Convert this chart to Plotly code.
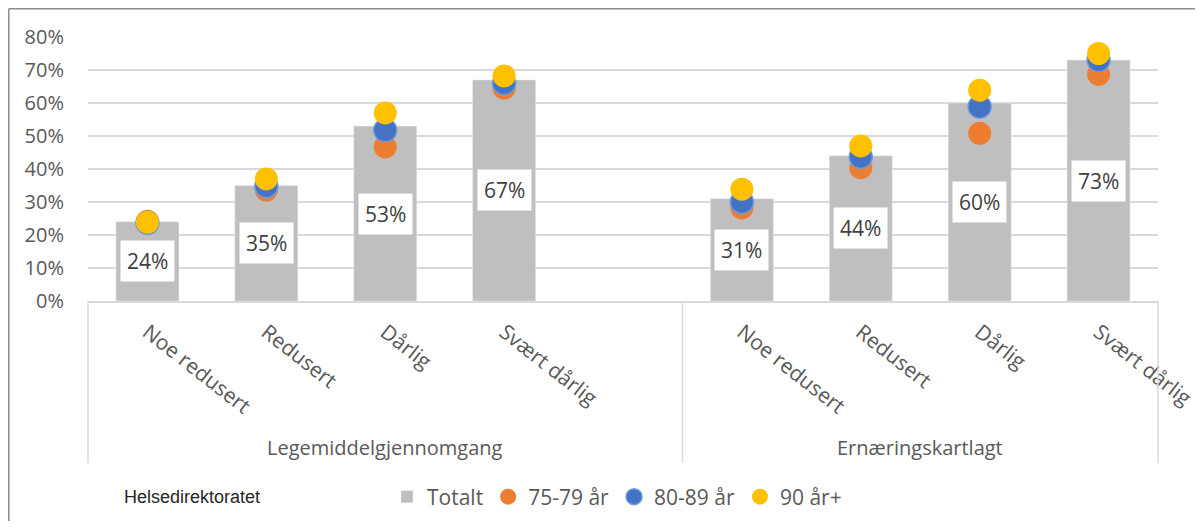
import plotly.graph_objects as go

groups = ["Legemiddelgjennomgang", "Ernæringskartlagt"]
categories = ["Noe redusert", "Redusert", "Dårlig", "Svært dårlig"]
totalt = [0.24, 0.35, 0.53, 0.67, 0.31, 0.44, 0.60, 0.73]
age_75_79 = [0.242, 0.336, 0.467, 0.645, 0.282, 0.404, 0.508, 0.687]
age_80_89 = [0.237, 0.348, 0.518, 0.660, 0.300, 0.437, 0.589, 0.730]
age_90 = [0.239, 0.370, 0.570, 0.682, 0.339, 0.470, 0.639, 0.750]
yticks = [0, 0.1, 0.2, 0.3, 0.4, 0.5, 0.6, 0.7, 0.8]

# page geometry: the html body adds an 8px margin, so the figure is offset by 8px
OFF = 8
W, H = 1203 - OFF, 529 - 2 * OFF
PLOT_L, PLOT_R, PLOT_T, PLOT_B = 88, 1158, 37, 301  # page pixel coordinates of the plot area
L = PLOT_L - OFF
T = PLOT_T - OFF
R = W - (PLOT_R - OFF)
B = H - (PLOT_B - OFF)
PW, PH = PLOT_R - PLOT_L, PLOT_B - PLOT_T

def px_x(p):
    return (p - PLOT_L) / PW

def px_y(p):
    return (PLOT_B - p) / PH

# slot positions: group 1 occupies slots 0-3 (slot 4 empty), group 2 slots 5-8
n = len(categories)
n_slots = 2 * n + 1
xpos = list(range(n)) + [n + 1 + i for i in range(n)]
xlabels = categories + categories

font_main = "Open Sans, Noto Sans, sans-serif"
grey_txt = "#595959"

fig = go.Figure()
fig.add_trace(go.Bar(x=xpos, y=totalt, name="Totalt", marker=dict(color="#BFBFBF"),
                     width=0.53, hoverinfo="skip"))
fig.add_trace(go.Scatter(x=xpos, y=age_75_79, mode="markers", name="75-79 år",
                         marker=dict(color="#ED7D31", size=23)))
fig.add_trace(go.Scatter(x=xpos, y=age_80_89, mode="markers", name="80-89 år",
                         marker=dict(color="#4472C4", size=23, line=dict(color="#6A9BDB", width=1.5))))
fig.add_trace(go.Scatter(x=xpos, y=age_90, mode="markers", name="90 år+",
                         marker=dict(color="#FFC000", size=23)))

annotations = []
for xp, v in zip(xpos, totalt):
    annotations.append(dict(x=xp, y=v / 2, xref="x", yref="y", text=f"{v*100:.0f}%",
                            showarrow=False, bgcolor="white", borderpad=6,
                            font=dict(family=font_main, size=21, color="#404040")))

# group labels
group_centers = [(-0.5 + n + 0.5) / 2, (n + 0.5 + 2 * n + 0.5) / 2]
for g, c in zip(groups, group_centers):
    annotations.append(dict(x=c, y=px_y(447), xref="x", yref="paper", text=g, showarrow=False,
                            xanchor="center", yanchor="middle",
                            font=dict(family=font_main, size=20, color=grey_txt)))

annotations.append(dict(x=px_x(192), y=px_y(497), xref="paper", yref="paper",
                        text="Helsedirektoratet", showarrow=False, xanchor="center", yanchor="middle",
                        font=dict(family="Liberation Sans, Arial, sans-serif", size=18, color="#262626")))

shapes = []
for b in [-0.5, n + 0.5, 2 * n + 0.5]:
    xp = (b + 0.5) / n_slots
    shapes.append(dict(type="line", xref="paper", yref="paper", x0=xp, x1=xp, y0=0, y1=px_y(463),
                       line=dict(color="#D9D9D9", width=1.5)))
# outer chart border (as far left/top as the figure reaches)
bx = px_x(OFF + 0.8)
by = px_y(OFF + 0.8)
shapes.append(dict(type="line", xref="paper", yref="paper", x0=bx, x1=bx,
                   y0=by, y1=px_y(560), line=dict(color="#8C8C8C", width=1.5)))
shapes.append(dict(type="line", xref="paper", yref="paper", x0=bx, x1=px_x(1250),
                   y0=by, y1=by, line=dict(color="#8C8C8C", width=1.5)))

fig.update_layout(
    width=W, height=H,
    margin=dict(l=L, r=R, t=T, b=B, autoexpand=False),
    paper_bgcolor="white", plot_bgcolor="white",
    barmode="overlay",
    showlegend=True,
    legend=dict(orientation="h", x=px_x(387), y=px_y(497), xanchor="left", yanchor="middle",
                font=dict(family=font_main, size=21, color=grey_txt), itemwidth=30,
                traceorder="normal"),
    annotations=annotations,
    shapes=shapes,
    xaxis=dict(range=[-0.5, n_slots - 0.5], tickmode="array", tickvals=xpos, ticktext=xlabels,
               tickangle=38, showgrid=False, zeroline=False, showline=True, automargin=False,
               linecolor="#D9D9D9", linewidth=1.5, ticks="", ticklabelstandoff=9,
               tickfont=dict(family=font_main, size=21, color=grey_txt)),
    yaxis=dict(range=[0, 0.8], tickmode="array", tickvals=yticks,
               ticktext=[f"{v*100:.0f}%" for v in yticks], automargin=False,
               showgrid=True, gridcolor="#D9D9D9", gridwidth=1.5, zeroline=False,
               showline=False, ticks="", ticklabelstandoff=23,
               tickfont=dict(family=font_main, size=20, color=grey_txt)),
)

fig.write_html("out.html")
